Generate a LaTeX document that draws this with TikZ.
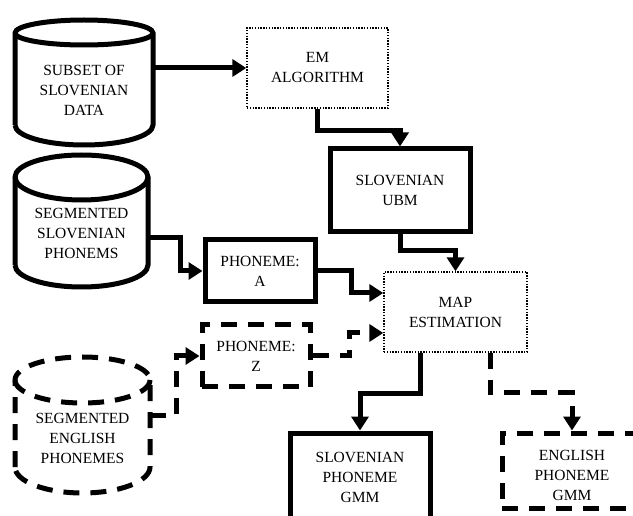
\documentclass[tikz,border=0pt]{standalone}
\usepackage{fontspec}
\setmainfont{Liberation Serif}
\usetikzlibrary{arrows.meta}
\begin{document}
\begin{tikzpicture}[x=1pt,y=-1pt,
  every node/.style={font=\fontsize{15.5}{20}\selectfont, align=center, inner sep=0pt},
  thickbox/.style={draw, line width=5pt, rectangle},
  dotbox/.style={draw, line width=1.4pt, dash pattern=on 1.4pt off 1.4pt, rectangle},
  dashbox/.style={draw, line width=5pt, dash pattern=on 16pt off 11pt, rectangle},
  cyltext/.style={rectangle, draw=none},
  cylline/.style={line width=5pt},
  conn/.style={line width=5pt, -{Triangle[length=14pt,width=17pt]}},
  dconn/.style={conn, dash pattern=on 16pt off 11pt}
]
\useasboundingbox (0,0) rectangle (633,516);

% nodes
\node[cyltext, minimum width=138pt] (c1) at (84,90) {SUBSET OF\\SLOVENIAN\\DATA};
\node[dotbox, minimum width=141pt, minimum height=80pt] (em) at (317.5,68) {EM\\ALGORITHM};
\node[thickbox, minimum width=140pt, minimum height=83pt] (ubm) at (400,190.5) {SLOVENIAN\\UBM};
\node[cyltext, minimum width=133pt] (c2) at (81.5,233) {SEGMENTED\\SLOVENIAN\\PHONEMS};
\node[thickbox, minimum width=110pt, minimum height=62pt] (pa) at (260,271) {PHONEME:\\A};
\node[dotbox, minimum width=143pt, minimum height=80pt] (map) at (455.5,312) {MAP\\ESTIMATION};
\node[dashbox, minimum width=108pt, minimum height=62pt] (pz) at (256,356) {PHONEME:\\Z};
\node[cyltext, minimum width=135pt] (c3) at (82.5,438) {SEGMENTED\\ENGLISH\\PHONEMES};
\node[thickbox, minimum width=140pt, minimum height=88pt] (sg) at (360,477) {SLOVENIAN\\PHONEME\\GMM};
\node[dashbox, minimum width=140pt, minimum height=75pt] (eg) at (572,470.5) {};
\node (egt) at (572,475) {ENGLISH\\PHONEME\\GMM};

% cylinders
\draw[cylline] (15,125) -- (15,33) arc[start angle=180,end angle=0,x radius=69pt,y radius=13pt]
  -- (153,125) arc[start angle=0,end angle=-180,x radius=69pt,y radius=20pt];
\draw[cylline] (15,33) arc[start angle=180,end angle=360,x radius=69pt,y radius=12pt];

\draw[cylline] (15,265) -- (15,177) arc[start angle=180,end angle=0,x radius=66.5pt,y radius=22pt]
  -- (148,265) arc[start angle=0,end angle=-180,x radius=66.5pt,y radius=22pt];
\draw[cylline] (15,177) arc[start angle=180,end angle=360,x radius=66.5pt,y radius=23pt];

\draw[cylline, dash pattern=on 16pt off 11pt] (15,467) -- (15,380) arc[start angle=180,end angle=0,x radius=67.5pt,y radius=23pt]
  -- (150,467) arc[start angle=0,end angle=-180,x radius=67.5pt,y radius=26pt];
\draw[cylline, dash pattern=on 16pt off 11pt] (15,380) arc[start angle=180,end angle=360,x radius=67.5pt,y radius=23pt];

% connectors
\draw[conn] (em.west -| c1.east) -- (em.west);
\draw[conn] (em.south) -- ++(0,22) -| (ubm.north);
\draw[conn] (ubm.south) -- ++(0,16) -| (map.north);
\draw[conn] ([yshift=-5pt]c2.east) -- ++(32,0) |- (pa.west);
\draw[conn] (pa.east) -- ++(34,0) |- ([yshift=19pt]map.west);
\draw[dconn] (pz.east) -- ++(37,0) |- ([yshift=-21pt]map.west);
\draw[dconn] ([yshift=23pt]c3.east) -- ++(26,0) |- (pz.west);
\draw[conn] ([xshift=-35.5pt]map.south) -- ++(0,41) -| (sg.north);
\draw[dconn] ([xshift=34.5pt]map.south) -- ++(0,40) -| (eg.north);
\end{tikzpicture}
\end{document}
